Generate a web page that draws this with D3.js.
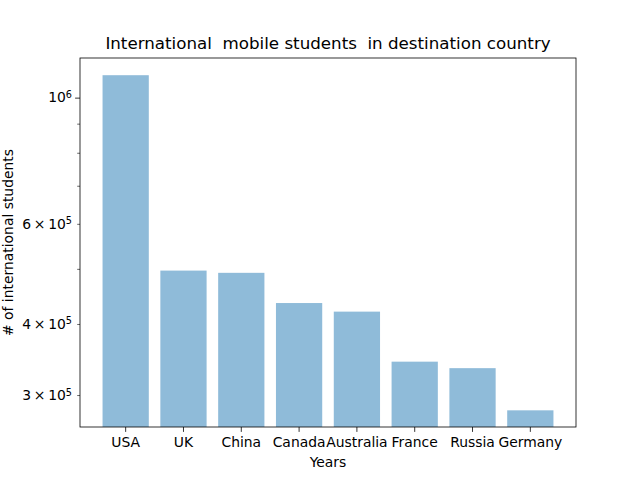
<!DOCTYPE html>
<html>
<head>
<meta charset="utf-8">
<script src="https://cdn.jsdelivr.net/npm/d3@7"></script>
<style>
  body { margin: 0; background: #fff; }
  text { font-family: "DejaVu Sans", sans-serif; fill: #000; }
</style>
</head>
<body>
<div id="chart"></div>
<script>
// Data
var countries = ["USA", "UK", "China", "Canada", "Australia", "France", "Russia", "Germany"];
var students = [1095000, 496500, 492000, 435400, 420500, 343400, 334500, 282000];

// Ticks on the log axis
var labelTicks = [300000, 400000, 600000, 1000000];
var minorTicks = [300000, 400000, 500000, 600000, 700000, 800000, 900000];

// Canvas
var margin = {top: 58, right: 64, bottom: 53, left: 80};
var width = 640 - margin.left - margin.right;
var height = 480 - margin.top - margin.bottom;

var svg = d3.select("#chart")
    .append("svg")
        .attr("width", 640)
        .attr("height", 480);

var g = svg.append("g")
    .attr("transform", "translate(" + margin.left + "," + margin.top + ")");

// Scales
var x = d3.scaleBand()
    .domain(countries)
    .range([0, width])
    .paddingInner(0.2)
    .paddingOuter(0.39);

var y = d3.scaleLog()
    .domain([263600, 1174000])
    .range([height, 0]);

// Bars
g.append("g")
    .selectAll("rect")
    .data(countries)
    .join("rect")
        .attr("x", d => x(d))
        .attr("width", x.bandwidth())
        .attr("y", (d, i) => y(students[i]))
        .attr("height", (d, i) => height - y(students[i]))
        .attr("fill", "#1f77b4")
        .attr("fill-opacity", 0.5);

// X axis
var xAxis = g.append("g")
    .attr("transform", "translate(0," + height + ")")
    .call(d3.axisBottom(x).tickSize(4.9).tickPadding(5.5));
xAxis.select(".domain").remove();
xAxis.selectAll("line").attr("stroke-width", 0.8);
xAxis.selectAll("text")
    .style("font-size", "13.9px")
    .style("font-family", "DejaVu Sans, sans-serif");

// Y axis, minor ticks
var yMinor = g.append("g")
    .call(d3.axisLeft(y).tickValues(minorTicks).tickSize(2.8).tickFormat(""));
yMinor.select(".domain").remove();
yMinor.selectAll("line").attr("stroke-width", 0.6);

// Y axis, major tick
var yMajor = g.append("g")
    .call(d3.axisLeft(y).tickValues([1000000]).tickSize(4.9).tickFormat(""));
yMajor.select(".domain").remove();
yMajor.selectAll("line").attr("stroke-width", 0.8);

// Y tick labels with exponents
var ylab = g.append("g")
    .selectAll("text")
    .data(labelTicks)
    .join("text")
        .attr("x", -8)
        .attr("y", d => y(d))
        .attr("dy", "0.35em")
        .attr("text-anchor", "end")
        .style("font-size", "13.9px")
        .style("white-space", "pre");

ylab.each(function(d) {
    var t = d3.select(this);
    var exp = Math.floor(Math.log10(d));
    var mant = Math.round(d / Math.pow(10, exp));
    var base = mant == 1 ? "10" : mant + "\u2009\u00d7\u200910";
    t.append("tspan").text(base);
    t.append("tspan")
        .attr("dy", "-0.45em")
        .style("font-size", "9.7px")
        .text(exp);
});

// Frame
g.append("rect")
    .attr("width", width)
    .attr("height", height)
    .attr("fill", "none")
    .attr("stroke", "#000")
    .attr("stroke-width", 0.8);

// Title and labels
svg.append("text")
    .attr("x", margin.left + width / 2)
    .attr("y", 49)
    .attr("text-anchor", "middle")
    .style("font-size", "16.7px")
    .style("white-space", "pre")
    .text("International  mobile students  in destination country");

svg.append("text")
    .attr("x", margin.left + width / 2)
    .attr("y", 467)
    .attr("text-anchor", "middle")
    .style("font-size", "13.9px")
    .text("Years");

svg.append("text")
    .attr("transform", "translate(13," + (margin.top + height / 2) + ") rotate(-90)")
    .attr("text-anchor", "middle")
    .style("font-size", "13.9px")
    .text("# of international students");
</script>
</body>
</html>
